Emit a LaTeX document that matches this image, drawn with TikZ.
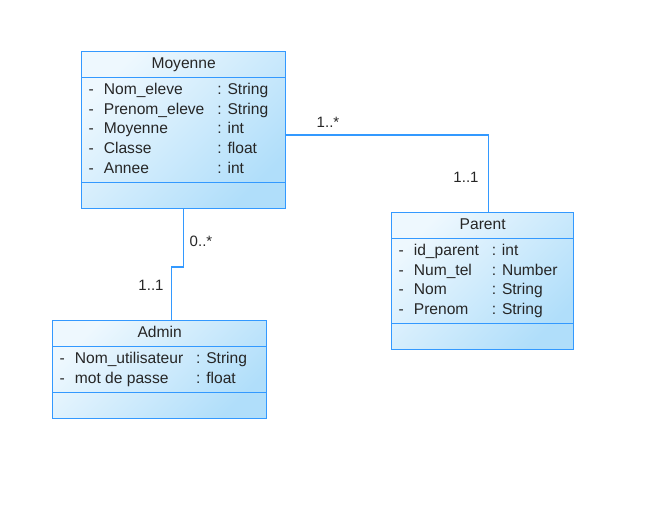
\documentclass[tikz,border=0pt]{standalone}
\usepackage{fontspec}
\setmainfont{Liberation Sans}
\definecolor{umlblue}{RGB}{51,153,255}
\definecolor{umltop}{RGB}{238,248,254}
\definecolor{umlbottom}{RGB}{176,222,250}
\usetikzlibrary{shapes.multipart,positioning}
\tikzset{
	umlclass/.style={
		draw=umlblue, line width=1.3pt, rectangle split,
		rectangle split parts=3, inner xsep=7pt, inner ysep=2.6pt,
		top color=umltop, bottom color=umlbottom, shading angle=45,
		rectangle split part align={center,left,left},
		anchor=north west,
		font=\fontsize{15.6}{19.6}\selectfont, text=black!85
	},
	assoc/.style={draw=umlblue, line width=1.1pt},
	mult/.style={font=\fontsize{15}{19}\selectfont, text=black!85}
}
\newcommand{\attrlist}[1]{\begin{tabular}{@{}l@{\hspace{10pt}}l@{\hspace{13pt}}l@{}}#1\end{tabular}}

\begin{document}
\begin{tikzpicture}[x=1pt,y=-1pt]
	\useasboundingbox (0,0) rectangle (666,519);
	\node[umlclass, minimum width=204pt] (Moyenne) at (81,51) {\strut Moyenne
		\nodepart{two}\attrlist{
			- & Nom\_eleve & : String\\
			- & Prenom\_eleve & : String\\
			- & Moyenne & : int\\
			- & Classe & : float\\
			- & Annee & : int}
		\nodepart{three}\strut};
	\node[umlclass, minimum width=182pt] (Parent) at (391,212) {\strut Parent
		\nodepart{two}\attrlist{
			- & id\_parent & : int\\
			- & Num\_tel & : Number\\
			- & Nom & : String\\
			- & Prenom & : String}
		\nodepart{three}\strut};
	\node[umlclass, minimum width=214pt] (Admin) at (52,320) {\strut Admin
		\nodepart{two}\attrlist{
			- & Nom\_utilisateur & : String\\
			- & mot de passe & : float}
		\nodepart{three}\strut};
	\draw[assoc] ([yshift=-5pt]Moyenne.east) -| ([xshift=5.5pt]Parent.north);
	\draw[assoc] (Moyenne.south) -- ++(0,58) -| ([xshift=12pt]Admin.north);
	\node[mult] (multMP) at (328,122) {1..*};
	\node[mult] (multPM) at (466,177) {1..1};
	\node[mult] (multMA) at (201,241) {0..*};
	\node[mult] (multAM) at (151,285) {1..1};
\end{tikzpicture}
\end{document}
